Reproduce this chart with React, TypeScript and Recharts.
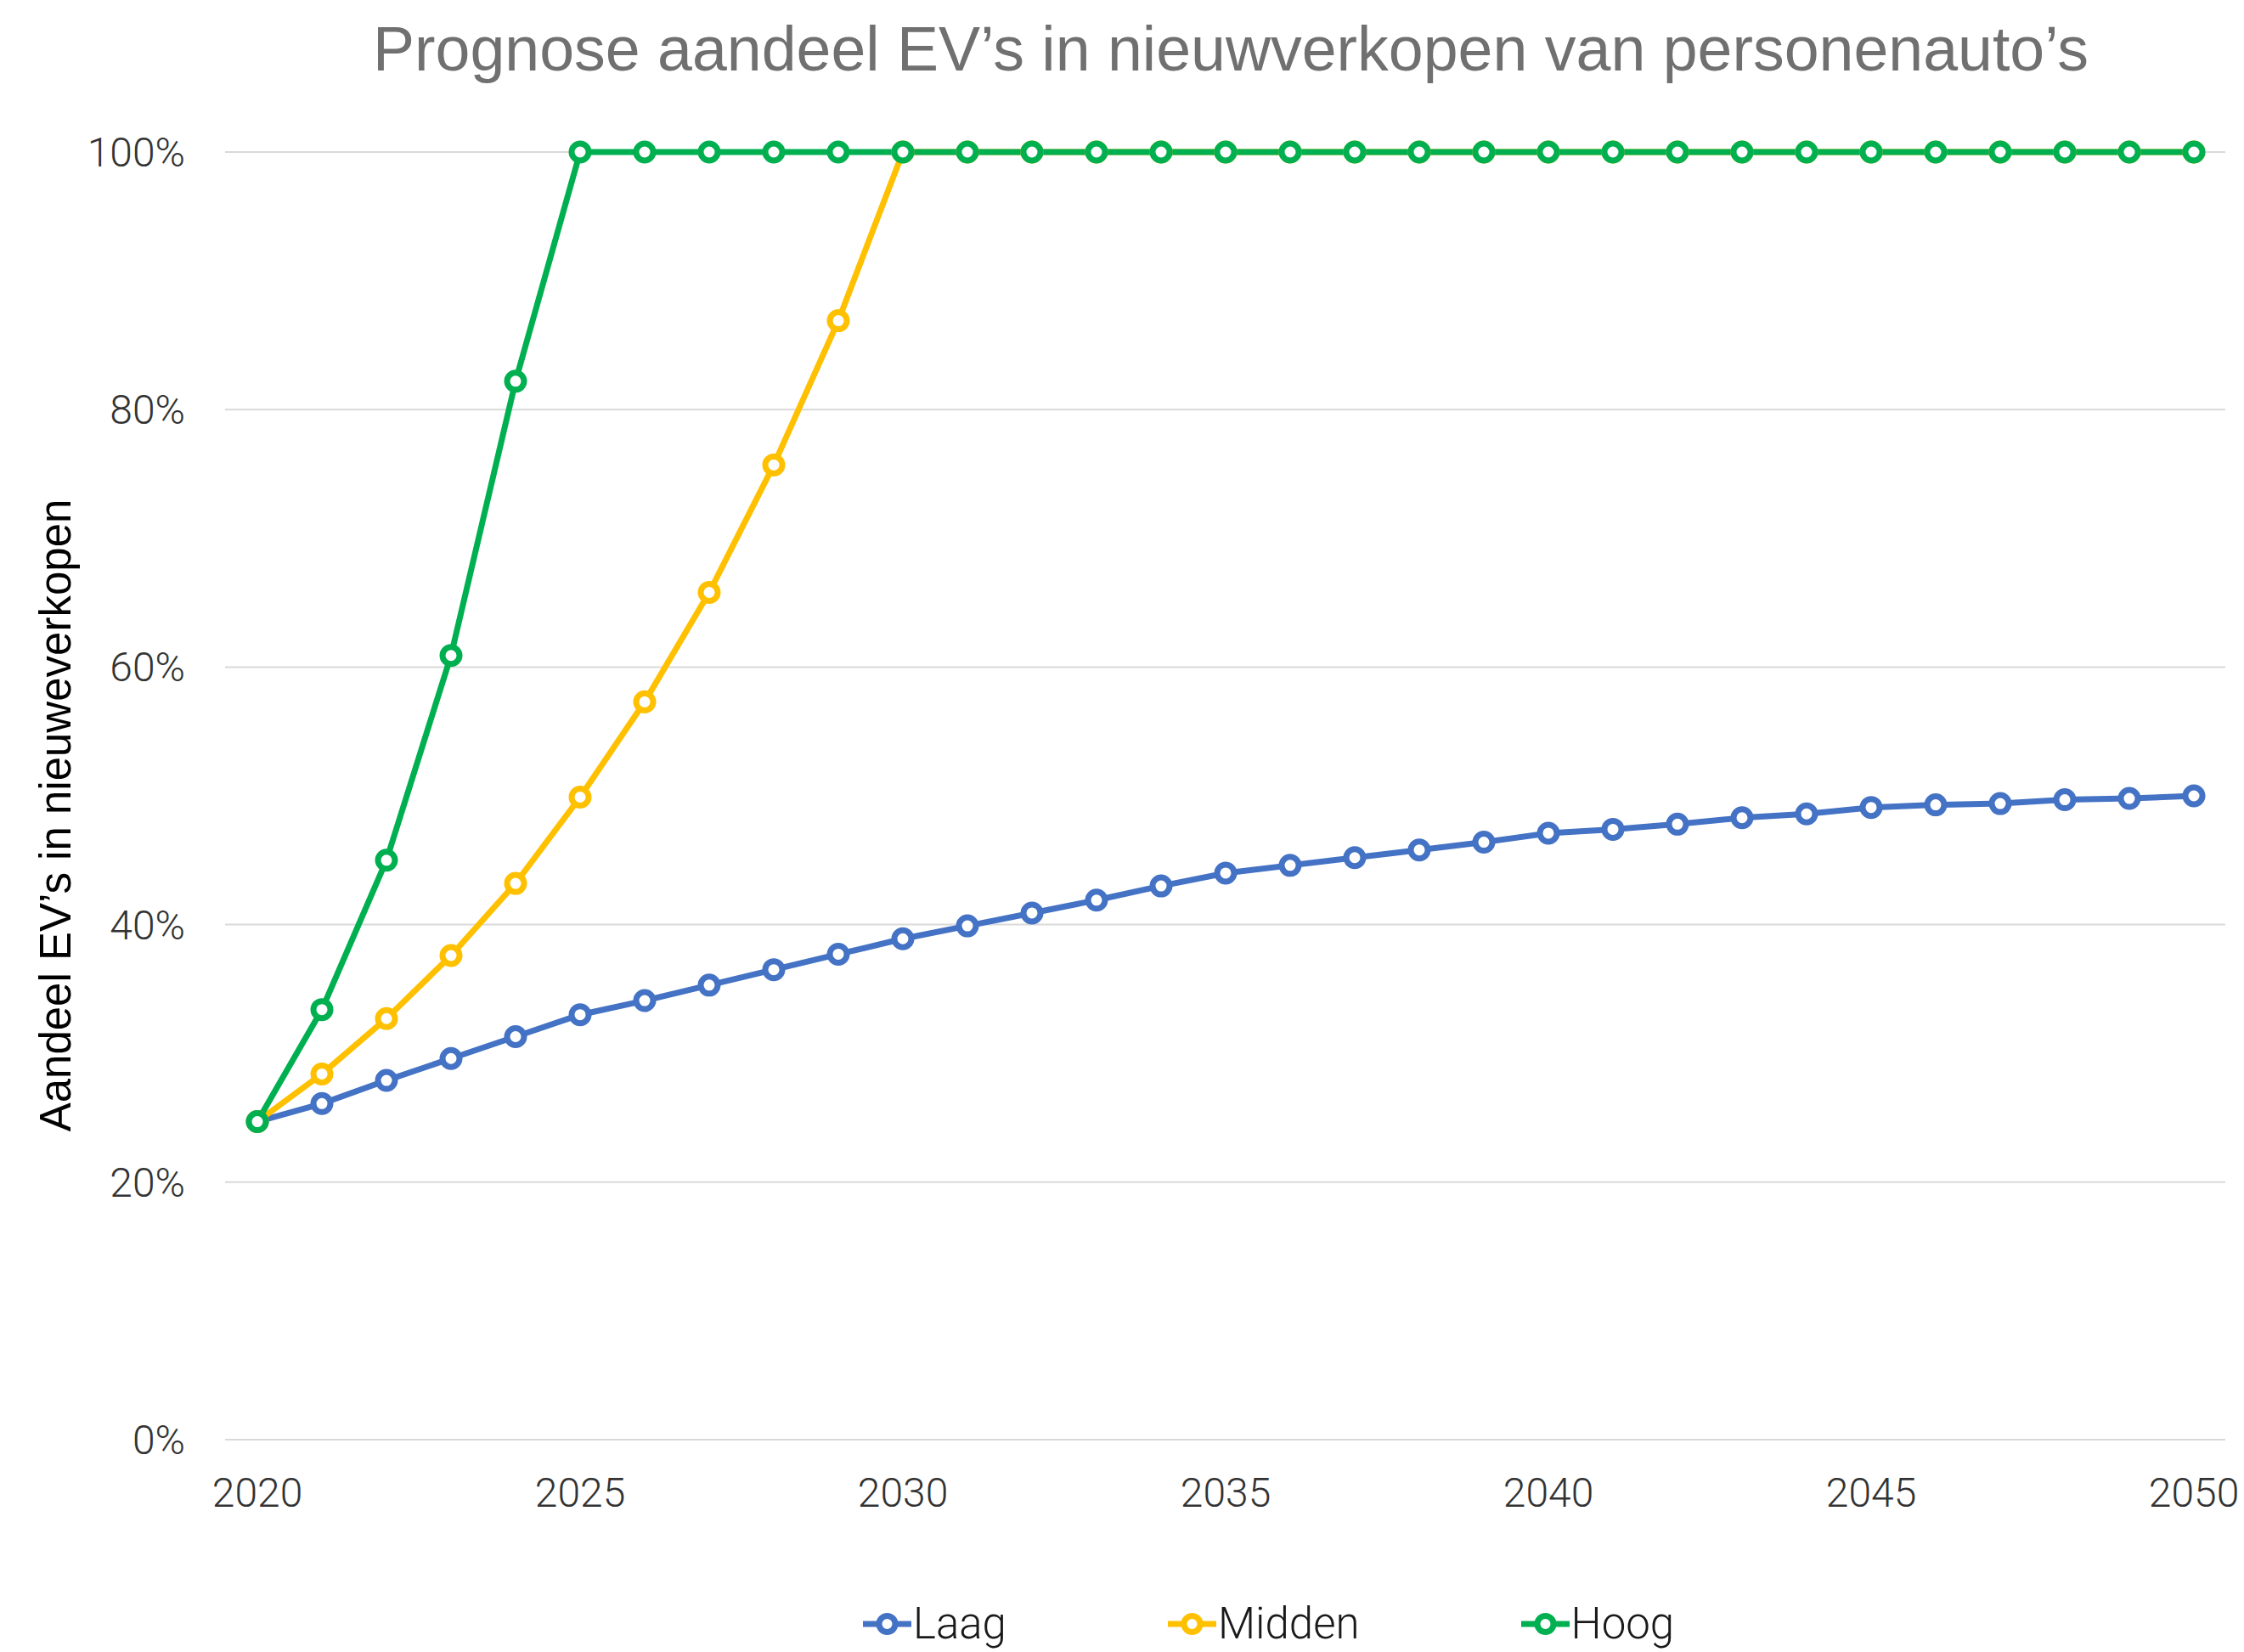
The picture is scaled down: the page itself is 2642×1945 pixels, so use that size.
import { LineChart, Line, XAxis, YAxis, CartesianGrid, Legend } from "recharts";

const years = [
  2020, 2021, 2022, 2023, 2024, 2025, 2026, 2027, 2028, 2029, 2030, 2031, 2032, 2033, 2034, 2035,
  2036, 2037, 2038, 2039, 2040, 2041, 2042, 2043, 2044, 2045, 2046, 2047, 2048, 2049, 2050,
];

const laag = [
  24.7, 26.1, 27.9, 29.6, 31.3, 33.0, 34.1, 35.3, 36.5, 37.7, 38.9, 39.9, 40.9, 41.9, 43.0, 44.0,
  44.6, 45.2, 45.8, 46.4, 47.1, 47.4, 47.8, 48.3, 48.6, 49.1, 49.3, 49.4, 49.7, 49.8, 50.0,
];

const midden = [
  24.7, 28.4, 32.7, 37.6, 43.2, 49.9, 57.3, 65.8, 75.7, 86.9, 100, 100, 100, 100, 100, 100,
  100, 100, 100, 100, 100, 100, 100, 100, 100, 100, 100, 100, 100, 100, 100,
];

const hoog = [
  24.7, 33.4, 45.0, 60.9, 82.2, 100, 100, 100, 100, 100, 100, 100, 100, 100, 100, 100,
  100, 100, 100, 100, 100, 100, 100, 100, 100, 100, 100, 100, 100, 100, 100,
];

const xTicks = [2020, 2025, 2030, 2035, 2040, 2045, 2050];
const yTicks = [0, 20, 40, 60, 80, 100];

const data = years.map((year, i) => ({
  year,
  Laag: laag[i],
  Midden: midden[i],
  Hoog: hoog[i],
}));

const series = [
  { key: "Laag", color: "#4472C4" },
  { key: "Midden", color: "#FFC000" },
  { key: "Hoog", color: "#00B050" },
];

const tickFont = { fontFamily: "Roboto", fontWeight: 300, fontSize: 48, fill: "#333333" };

function renderLegend(props: any) {
  const order = series.map((s) => s.key);
  const items = [...(props.payload || [])].sort(
    (a: any, b: any) => order.indexOf(a.value) - order.indexOf(b.value)
  );
  return (
    <div style={{ display: "flex", alignItems: "center", height: 60 }}>
      {items.map((entry: any, i: number) => (
        <div
          key={entry.value}
          style={{ display: "flex", alignItems: "center", marginRight: i < items.length - 1 ? 190 : 0 }}
        >
          <svg width={57} height={30}>
            <line x1={0} y1={15} x2={57} y2={15} stroke={entry.color} strokeWidth={7} />
            <circle cx={28.5} cy={15} r={9.5} fill="#fff" stroke={entry.color} strokeWidth={7} />
          </svg>
          <span
            style={{
              fontFamily: "Roboto",
              fontWeight: 300,
              fontSize: 51,
              color: "#1a1a1a",
              marginLeft: 2,
              lineHeight: "60px",
            }}
          >
            {entry.value}
          </span>
        </div>
      ))}
    </div>
  );
}

export default function App() {
  return (
    <div style={{ position: "absolute", left: 0, top: 0, width: 2642, height: 1945, background: "#fff" }}>
      <div
        style={{
          position: "absolute",
          left: 1449,
          top: 21,
          transform: "translateX(-50%)",
          whiteSpace: "nowrap",
          fontFamily: "Liberation Sans",
          fontSize: 73.5,
          lineHeight: "73.5px",
          color: "#707070",
        }}
      >
        Prognose aandeel EV’s in nieuwverkopen van personenauto’s
      </div>
      <LineChart width={2642} height={1945} data={data} margin={{ top: 179, right: 22, bottom: 3, left: 0 }}>
        <CartesianGrid horizontal={true} vertical={false} stroke="#d9d9d9" strokeWidth={2} />
        <XAxis
          dataKey="year"
          type="number"
          domain={[2020, 2050]}
          ticks={xTicks}
          padding={{ left: 38, right: 37 }}
          axisLine={false}
          tickLine={false}
          tickSize={0}
          tickMargin={45}
          height={187}
          tick={tickFont}
        />
        <YAxis
          type="number"
          domain={[0, 100]}
          ticks={yTicks}
          tickFormatter={(v: number) => `${v}%`}
          axisLine={false}
          tickLine={false}
          tickSize={0}
          tickMargin={47}
          width={265}
          tick={tickFont}
          label={{
            content: () => (
              <text
                transform="translate(83, 960) rotate(-90)"
                x={0}
                y={0}
                textAnchor="middle"
                fontFamily="Liberation Sans"
                fontSize={51}
                fill="#000"
              >
                Aandeel EV’s in nieuweverkopen
              </text>
            ),
          }}
        />
        <Legend
          verticalAlign="bottom"
          height={60}
          content={renderLegend}
          wrapperStyle={{ left: 1016, bottom: 3, width: "auto" }}
        />
        {series.map((s) => (
          <Line
            key={s.key}
            type="linear"
            dataKey={s.key}
            stroke={s.color}
            strokeWidth={7}
            dot={{ r: 10, strokeWidth: 7, fill: "#fff", stroke: s.color }}
            activeDot={false}
            isAnimationActive={false}
          />
        ))}
      </LineChart>
    </div>
  );
}
